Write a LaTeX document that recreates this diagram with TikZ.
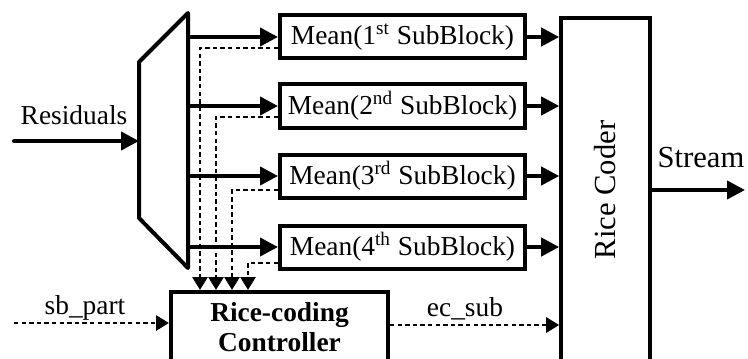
\documentclass[tikz,border=0pt]{standalone}
\usepackage{fontspec}
\setmainfont{Liberation Serif}
\usetikzlibrary{arrows.meta,calc}

\begin{document}
\begin{tikzpicture}[x=0.5pt, y=-0.5pt,
  font=\fontsize{13.7}{15}\selectfont,
  meanbox/.style={draw, line width=2pt, minimum width=122.5pt, minimum height=21.5pt, inner sep=0pt},
  sig/.style={line width=2pt, line cap=round, -{Triangle[length=9pt,width=9pt]}},
  ctl/.style={line width=1.4pt, dash pattern=on 2.2pt off 1.6pt, -{Triangle[length=6.5pt,width=7.5pt]}}]

  % Page
  \useasboundingbox (0,0) rectangle (748,358);
  \clip (0,0) rectangle (748,358);

  % Demux
  \coordinate (mxnw) at (139,62);
  \coordinate (mxne) at (188,13);
  \coordinate (mxse) at (188,268);
  \coordinate (mxsw) at (139,218);
  \draw[line width=2pt, line join=round] (mxnw) -- (mxne) -- (mxse) -- (mxsw) -- cycle;

  % Sub-block means
  \node[meanbox] (m1) at (402.5,37)  {Mean(1\textsuperscript{st} SubBlock)};
  \node[meanbox] (m2) at (402.5,106) {Mean(2\textsuperscript{nd} SubBlock)};
  \node[meanbox] (m3) at (402.5,176) {Mean(3\textsuperscript{rd} SubBlock)};
  \node[meanbox] (m4) at (402.5,247) {Mean(4\textsuperscript{th} SubBlock)};

  % Rice coder
  \node[draw, line width=1.8pt, minimum width=44.5pt, minimum height=172pt, inner sep=0pt] (rc) at (605.5,190) {};
  \node[rotate=90, font=\fontsize{15.3}{18}\selectfont] (rclbl) at (rc.center) {Rice Coder};

  % Controller
  \node[draw, line width=2pt, minimum width=108.5pt, minimum height=35pt, inner sep=0pt, align=center,
        font=\fontsize{13.7}{15}\selectfont\bfseries] (ctrl) at (279.5,327) {Rice-coding\\Controller};

  % Input
  \coordinate (resin) at (14,141);
  \draw[sig] (resin) -- (resin -| mxnw);
  \node (reslbl) at (74,115.5) {Residuals};

  % Demux to means
  \draw[sig] (m1.west -| mxne) -- (m1.west);
  \draw[sig] (m2.west -| mxne) -- (m2.west);
  \draw[sig] (m3.west -| mxne) -- (m3.west);
  \draw[sig] (m4.west -| mxne) -- (m4.west);

  % Means to coder
  \draw[sig] (m1.east) -- (m1.east -| rc.west);
  \draw[sig] (m2.east) -- (m2.east -| rc.west);
  \draw[sig] (m3.east) -- (m3.east -| rc.west);
  \draw[sig] (m4.east) -- (m4.east -| rc.west);

  % Means to controller
  \coordinate (d1) at (200,0);
  \coordinate (d2) at (216,0);
  \coordinate (d3) at (232,0);
  \coordinate (d4) at (248,0);
  \draw[ctl] ($(m1.west)+(0,11)$) -| (ctrl.north -| d1);
  \draw[ctl] ($(m2.west)+(0,11)$) -| (ctrl.north -| d2);
  \draw[ctl] ($(m3.west)+(0,14)$) -| (ctrl.north -| d3);
  \draw[ctl] ($(m4.west)+(0,16)$) -| (ctrl.north -| d4);

  % Partition input
  \coordinate (sbin) at (14,323);
  \draw[ctl] (sbin) -- (sbin -| ctrl.west);
  \node (sblbl) at (85,308) {sb\_part};

  % Controller to coder
  \coordinate (ecout) at ($(ctrl.east)+(0,-2)$);
  \draw[ctl] (ecout) -- (ecout -| rc.west);
  \node (eclbl) at (465,309) {ec\_sub};

  % Output
  \coordinate (strout) at (745,190);
  \draw[sig] (rc.east) -- (strout);
  \node[font=\fontsize{15.3}{18}\selectfont] (strlbl) at (701,158) {Stream};

\end{tikzpicture}
\end{document}
